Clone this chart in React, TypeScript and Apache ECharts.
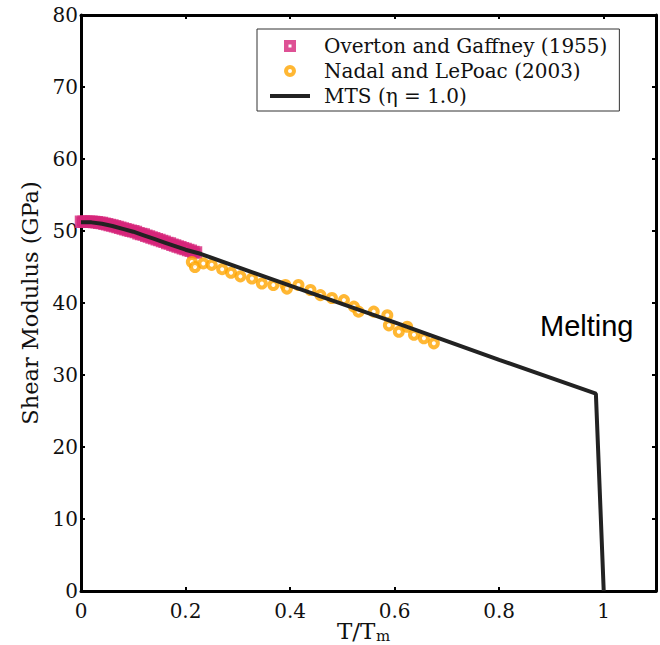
import React, { useEffect, useRef } from "react";
import * as echarts from "echarts";

// MTS model curve (η = 1.0)
const mtsT = [0, 0.02, 0.04, 0.06, 0.08, 0.1, 0.12, 0.14, 0.16, 0.18, 0.2, 0.23, 0.4, 0.6, 0.8, 0.985, 1.0];
const mtsG = [51.2, 51.2, 51.0, 50.7, 50.3, 49.9, 49.4, 48.9, 48.4, 47.9, 47.4, 46.8, 42.4, 37.3, 32.1, 27.4, 0];

// Overton and Gaffney (1955)
const ogT = [
  0, 0.005, 0.01, 0.015, 0.02, 0.025, 0.03, 0.035, 0.04, 0.045, 0.05, 0.055, 0.06, 0.065, 0.07, 0.075,
  0.08, 0.085, 0.09, 0.095, 0.1, 0.105, 0.11, 0.115, 0.12, 0.125, 0.13, 0.135, 0.14, 0.145, 0.15, 0.155,
  0.16, 0.165, 0.17, 0.175, 0.18, 0.185, 0.19, 0.195, 0.2, 0.205, 0.21, 0.215, 0.22,
];
const ogG = [
  51.3, 51.3, 51.3, 51.3, 51.3, 51.25, 51.2, 51.15, 51.1, 51.0, 50.95, 50.85, 50.75, 50.65, 50.55, 50.45,
  50.35, 50.25, 50.15, 50.05, 49.95, 49.85, 49.7, 49.6, 49.5, 49.35, 49.25, 49.1, 49.0, 48.85, 48.75, 48.6,
  48.5, 48.35, 48.25, 48.1, 48.0, 47.85, 47.75, 47.6, 47.5, 47.35, 47.25, 47.1, 47.0,
];

// Nadal and LePoac (2003)
const nlT = [
  0.212, 0.218, 0.234, 0.25, 0.27, 0.287, 0.305, 0.327, 0.346, 0.368, 0.391, 0.394, 0.416, 0.439,
  0.458, 0.48, 0.503, 0.522, 0.531, 0.56, 0.586, 0.589, 0.608, 0.624, 0.637, 0.656, 0.675,
];
const nlG = [
  45.7, 45.0, 45.5, 45.3, 44.7, 44.2, 43.7, 43.4, 42.7, 42.5, 42.5, 42.0, 42.5, 41.8,
  41.1, 40.7, 40.4, 39.5, 38.8, 38.8, 38.3, 36.9, 36.0, 36.7, 35.6, 35.1, 34.4,
];

const xTicks = [0, 0.2, 0.4, 0.6, 0.8, 1];
const yTicks = [0, 10, 20, 30, 40, 50, 60, 70, 80];

const seriesNames = ["Overton and Gaffney (1955)", "Nadal and LePoac (2003)", "MTS (η = 1.0)"];

const SERIF = "'DejaVu Serif', 'Liberation Serif', serif";

const PINK = "#d6267a";
const ORANGE = "#ffa500";

const squareIcon = "path://M0,0 L12,0 L12,12 L0,12 Z M4.5,4.5 L4.5,7.5 L7.5,7.5 L7.5,4.5 Z";
const ringIcon = "path://M6,0 A6,6 0 1,1 6,12 A6,6 0 1,1 6,0 Z M6,4 A2,2 0 1,0 6,8 A2,2 0 1,0 6,4 Z";
const lineIcon = "path://M0,0 L40,0 L40,4 L0,4 Z";

export default function App() {
  const ref = useRef<HTMLDivElement>(null);
  useEffect(() => {
    if (!ref.current) return;
    const chart = echarts.init(ref.current, undefined, { renderer: "svg" });
    const axisLine = { show: true, onZero: false, lineStyle: { color: "#000", width: 3 } };
    const tick = { show: true, inside: true, length: 4, lineStyle: { color: "#000", width: 2 } };
    chart.setOption({
      animation: false,
      backgroundColor: "#fff",
      grid: { left: 81, top: 15, width: 575, height: 576, containLabel: false, outerBoundsMode: "none" },
      legend: {
        orient: "vertical",
        left: 257,
        top: 29,
        padding: [7, 12, 5, 13],
        itemGap: 5,
        itemWidth: 40,
        itemHeight: 12,
        borderColor: "#333",
        borderWidth: 1,
        backgroundColor: "#fff",
        textStyle: { fontFamily: SERIF, fontSize: 20, color: "#111", padding: [0, 0, 0, 9] },
        data: [
          { name: seriesNames[0], icon: squareIcon, itemStyle: { color: PINK, borderWidth: 0 } },
          { name: seriesNames[1], icon: ringIcon, itemStyle: { color: ORANGE, borderWidth: 0 } },
          { name: seriesNames[2], icon: lineIcon, itemStyle: { color: "#222", borderWidth: 0 } },
        ],
      },
      xAxis: [
        {
          type: "value",
          min: 0,
          max: 1.1,
          interval: 0.2,
          position: "bottom",
          axisLine,
          axisTick: tick,
          splitLine: { show: false },
          axisLabel: {
            margin: 10,
            fontFamily: SERIF,
            fontSize: 20,
            color: "#111",
            formatter: (v: number) =>
              xTicks.some((t) => Math.abs(t - v) < 1e-6) ? String(Math.round(v * 10) / 10) : "",
          },
        },
        {
          type: "value",
          min: 0,
          max: 1.1,
          interval: 0.2,
          position: "top",
          axisLine,
          axisTick: tick,
          axisLabel: { show: false },
          splitLine: { show: false },
        },
      ],
      yAxis: [
        {
          type: "value",
          min: 0,
          max: 80,
          interval: 10,
          position: "left",
          axisLine,
          axisTick: tick,
          splitLine: { show: false },
          axisLabel: {
            margin: 3,
            fontFamily: SERIF,
            fontSize: 20,
            color: "#111",
            formatter: (v: number) => (yTicks.includes(v) ? String(v) : ""),
          },
          name: "Shear Modulus (GPa)",
          nameLocation: "middle",
          nameGap: 38,
          nameTextStyle: { fontFamily: SERIF, fontSize: 22.5, color: "#111" },
        },
        {
          type: "value",
          min: 0,
          max: 80,
          interval: 10,
          position: "right",
          axisLine,
          axisTick: tick,
          axisLabel: { show: false },
          splitLine: { show: false },
        },
      ],
      series: [
        {
          name: seriesNames[0],
          type: "scatter",
          clip: false,
          symbol: "rect",
          symbolSize: 9,
          itemStyle: { color: PINK, borderColor: PINK, borderWidth: 3.5 },
          data: ogT.map((t, i) => [t, ogG[i]]),
        },
        {
          name: seriesNames[1],
          type: "scatter",
          clip: false,
          symbol: "circle",
          symbolSize: 8,
          itemStyle: { color: "#fff", borderColor: ORANGE, borderWidth: 4 },
          data: nlT.map((t, i) => [t, nlG[i]]),
        },
        {
          name: seriesNames[2],
          type: "line",
          symbol: "none",
          showSymbol: false,
          lineStyle: { color: "#222", width: 4 },
          itemStyle: { color: "#222" },
          data: mtsT.map((t, i) => [t, mtsG[i]]),
        },
      ],
      graphic: [
        {
          type: "text",
          left: 540,
          top: 311,
          style: { text: "Melting", fontFamily: "'Liberation Sans', Arial, sans-serif", fontSize: 29, fill: "#000" },
        },
        {
          type: "text",
          x: 337,
          y: 619,
          style: { text: "T/T", fontFamily: SERIF, fontSize: 23, fill: "#111", verticalAlign: "top", align: "left" },
        },
        {
          type: "text",
          x: 376,
          y: 628,
          style: { text: "m", fontFamily: SERIF, fontSize: 15, fill: "#111", verticalAlign: "top", align: "left" },
        },
      ],
    });
    return () => chart.dispose();
  }, []);
  return <div ref={ref} style={{ width: 660, height: 645, position: "absolute", left: 0, top: 0 }} />;
}
